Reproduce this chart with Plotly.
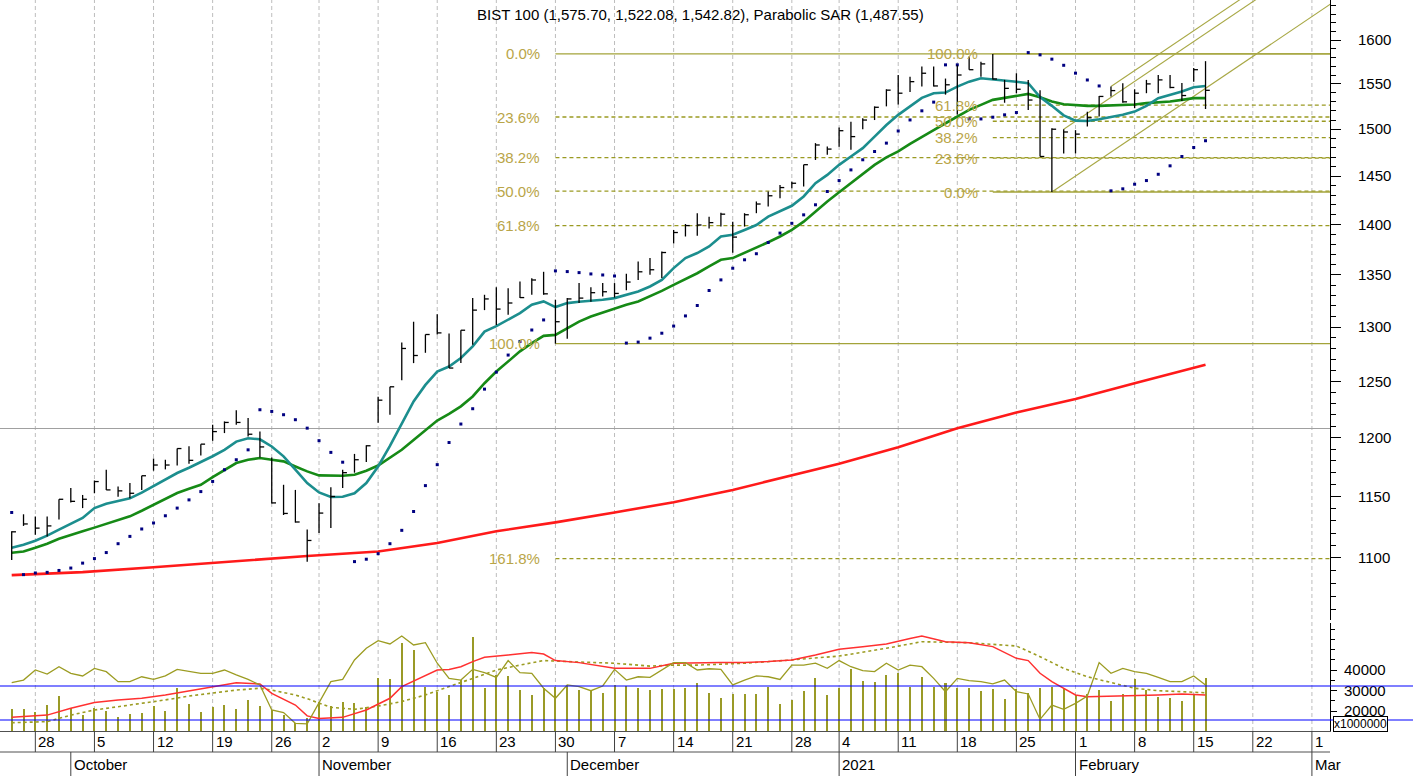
import math
import plotly.graph_objects as go

# ---------------- data (trading-day index 0 = 24 Sep 2020 ... 101 = 16 Feb 2021) ----------------
high = [1121.4,1135.3,1133.4,1133.4,1147.7,1157.0,1151.3,1163.4,1172.5,1158.3,
        1161.2,1167.4,1182.0,1181.0,1190.6,1192.6,1194.4,1211.3,1214.2,1224.0,
        1217.3,1205.3,1183.0,1159.8,1155.5,1122.8,1144.5,1157.8,1172.5,1186.0,
        1193.5,1236.0,1245.0,1285.5,1305.0,1293.0,1312.0,1294.0,1297.0,1327.5,
        1330.7,1338.0,1337.0,1343.5,1346.6,1353.0,1326.0,1327.5,1342.0,1338.0,
        1342.0,1342.0,1351.0,1363.0,1366.5,1373.0,1394.6,1400.6,1411.6,1408.0,
        1412.0,1403.0,1411.6,1423.6,1434.0,1440.8,1444.0,1462.0,1485.0,1481.3,
        1502.0,1508.0,1512.0,1525.0,1544.0,1560.0,1558.0,1569.6,1569.6,1556.0,
        1571.0,1581.0,1575.0,1584.0,1554.5,1562.0,1554.5,1543.0,1501.0,1500.0,
        1499.0,1519.0,1536.5,1547.0,1550.7,1544.0,1554.5,1560.0,1560.0,1551.0,
        1568.0,1575.70]
low = [1098.4,1125.8,1118.7,1117.3,1131.0,1145.0,1140.4,1152.7,1155.5,1149.8,
       1148.5,1155.5,1171.7,1172.8,1176.0,1177.5,1184.6,1197.3,1204.0,1211.3,
       1201.0,1183.0,1144.2,1134.7,1128.5,1097.0,1120.0,1124.0,1157.0,1170.0,
       1179.0,1213.0,1220.0,1251.0,1266.5,1276.0,1293.0,1262.0,1266.5,1283.4,
       1316.0,1302.0,1311.5,1327.5,1330.7,1330.7,1284.5,1289.0,1322.8,1324.0,
       1329.0,1328.0,1335.0,1345.0,1350.0,1347.0,1381.0,1388.0,1388.7,1396.0,
       1398.0,1371.8,1398.0,1411.6,1418.5,1427.0,1437.4,1439.0,1467.0,1472.5,
       1481.0,1478.0,1500.0,1510.0,1525.0,1527.0,1541.0,1547.0,1547.0,1538.0,
       1516.0,1566.0,1558.0,1555.0,1529.0,1539.6,1521.0,1470.7,1433.4,1474.0,
       1474.0,1503.0,1514.0,1536.0,1529.0,1523.0,1539.6,1539.6,1545.0,1531.0,
       1552.5,1522.08]
close = [1121.0,1127.4,1124.0,1125.8,1147.7,1146.0,1147.7,1162.5,1155.5,1154.7,
         1152.7,1167.4,1176.5,1176.5,1190.6,1180.5,1194.4,1205.3,1213.3,1213.3,
         1203.0,1192.0,1144.7,1136.0,1129.0,1114.0,1136.3,1150.0,1170.0,1181.0,
         1193.0,1233.0,1245.0,1280.0,1273.5,1293.0,1294.5,1262.0,1297.0,1316.0,
         1326.7,1317.0,1322.8,1328.0,1345.0,1331.6,1305.0,1326.7,1327.5,1332.7,
         1333.6,1332.0,1343.0,1353.0,1355.0,1372.0,1392.0,1399.0,1399.6,1402.0,
         1410.6,1387.4,1410.0,1421.0,1429.5,1438.0,1442.5,1462.0,1483.0,1478.6,
         1498.4,1492.0,1510.0,1524.0,1543.0,1539.6,1552.5,1562.0,1547.7,1549.0,
         1560.0,1566.0,1572.6,1555.5,1545.0,1544.0,1532.0,1470.7,1500.0,1497.0,
         1494.7,1512.5,1536.0,1542.5,1530.0,1539.6,1550.0,1554.5,1546.0,1537.0,
         1566.0,1542.82]
ma_teal = [1108.1,1110.6,1113.8,1117.9,1122.8,1127.6,1132.3,1140.4,1143.9,1146.3,
           1148.5,1153.3,1158.9,1164.5,1169.7,1174.2,1178.8,1184.0,1189.5,1196.6,
           1199.5,1198.6,1192.4,1183.9,1172.5,1161.2,1153.4,1149.6,1149.8,1152.7,
           1161.2,1175.3,1192.9,1212.7,1231.9,1246.7,1258.8,1263.4,1271.2,1281.9,
           1295.7,1300.9,1306.6,1313.1,1321.1,1324.3,1318.9,1322.7,1324.0,1324.9,
           1325.9,1327.5,1330.7,1333.9,1338.7,1345.1,1356.6,1366.5,1371.5,1378.0,
           1388.0,1389.7,1394.6,1399.6,1408.1,1413.3,1419.2,1428.8,1442.6,1451.2,
           1461.8,1470.7,1479.6,1492.0,1504.6,1515.7,1524.8,1534.4,1539.6,1540.3,
           1546.9,1552.5,1556.4,1555.2,1553.6,1552.5,1550.7,1535.2,1525.6,1515.1,
           1509.4,1509.0,1510.9,1513.1,1515.7,1519.3,1525.6,1534.1,1537.7,1541.4,
           1546.2,1547.7]
ma_green = [1104.1,1105.1,1108.1,1111.4,1115.4,1118.7,1121.4,1124.4,1127.6,1130.5,
            1133.6,1138.2,1143.1,1148.0,1152.9,1156.4,1159.8,1166.2,1172.5,1178.2,
            1181.0,1182.5,1181.0,1179.6,1175.3,1171.1,1167.7,1167.4,1167.4,1168.3,
            1171.7,1176.1,1182.5,1189.5,1198.0,1206.8,1215.0,1220.8,1227.5,1236.3,
            1248.2,1258.8,1268.0,1277.3,1285.0,1291.7,1292.6,1298.8,1305.1,1309.9,
            1313.7,1317.9,1321.1,1324.3,1329.1,1334.5,1340.3,1346.1,1351.6,1358.4,
            1364.8,1366.5,1371.5,1376.4,1382.2,1388.0,1394.6,1403.0,1413.3,1423.6,
            1433.1,1442.6,1452.2,1461.8,1469.8,1476.2,1484.2,1492.0,1499.1,1506.5,
            1513.8,1521.2,1526.7,1532.2,1534.4,1536.6,1538.8,1535.0,1530.3,1527.3,
            1526.2,1525.6,1525.6,1526.2,1526.7,1527.0,1528.6,1529.5,1530.3,1532.2,
            1534.1,1534.1]
psar = [1136.8,1086.8,1088.1,1088.6,1090.1,1092.0,1095.9,1099.5,1104.3,1111.4,
        1117.3,1123.3,1128.2,1134.1,1140.4,1147.2,1154.1,1162.6,1172.5,1181.0,
        1189.5,1224.5,1223.0,1220.1,1215.7,1208.3,1197.4,1187.3,1178.9,1097.1,
        1099.0,1103.4,1111.4,1122.2,1137.6,1159.1,1176.8,1195.8,1211.9,1225.4,
        1242.9,1258.3,1273.9,1286.5,1297.2,1306.7,1353.9,1353.2,1352.2,1350.9,
        1349.9,1348.9,1285.0,1285.9,1289.6,1294.2,1300.9,1310.5,1320.4,1334.8,
        1345.1,1356.5,1364.8,1370.8,1382.0,1391.4,1401.3,1409.9,1420.2,1433.9,
        1445.3,1456.5,1467.2,1476.0,1485.0,1498.1,1510.1,1520.1,1529.7,1571.5,
        1571.5,1511.2,1511.2,1513.1,1515.7,1518.2,1585.5,1582.9,1578.0,1571.0,
        1562.1,1554.4,1547.7,1434.6,1436.7,1441.5,1445.3,1451.9,1460.8,1470.7,
        1480.3,1487.55]
ma_red_idx = [0, 6, 12, 18, 25, 31, 36, 41, 46, 51, 56, 61, 66, 70, 75, 80, 85, 90, 95, 100, 101]
ma_red = [1086.4, 1088.8, 1092.6, 1097.0, 1101.6, 1105.1, 1112.0, 1121.4, 1128.7, 1136.8, 1145.3,
          1155.5, 1167.4, 1177.6, 1191.8, 1208.3, 1222.1, 1234.0, 1248.2, 1262.0, 1265.0]
ref_level = 1208.0

# lower panel (x1000000)
volume = [20800,20800,19700,22900,27300,21300,18000,21300,20200,17200,
          18500,19200,22400,20200,31100,23400,19700,22100,22900,20800,
          25400,22400,20500,18000,14000,16400,24600,22400,24600,23700,
          22100,35900,35400,53000,49800,31900,29400,27800,35100,56300,
          31100,37600,37100,30200,27800,31100,31900,32700,30200,30200,
          28900,32700,32200,31100,30200,30600,30600,31100,33500,28900,
          26200,28300,28300,28300,31900,23400,25400,29900,35900,27800,
          31100,40300,34800,34300,37600,38700,31900,36400,31900,33500,
          31100,31100,29900,30600,25900,30600,28900,31100,31900,31100,
          27800,28300,30200,24900,28300,35400,30200,26700,26200,24900,
          27800,35900]
osc_line = [33800,35100,40000,38000,41600,38400,37100,40800,39200,34300,
            34300,36700,35400,37100,40300,39200,38400,38400,40000,37600,
            35400,32700,20500,19200,14000,13700,23700,34300,35400,44900,
            50600,54300,52700,56600,52200,53300,43300,35900,35100,40300,
            38700,36400,44600,38700,38400,31100,26200,32700,31900,29900,
            32200,40300,35100,36700,36400,40000,43600,43600,40000,40600,
            40300,32700,35100,37100,36700,35400,42400,42400,43300,40800,
            44600,41600,39700,39200,43300,40000,42400,41600,35900,29400,
            35900,34800,34300,33200,35100,29400,28300,15900,22900,20800,
            23700,27300,43600,38400,40800,39200,38400,36400,34300,34300,
            37100,32700]
low_red_idx = [0,3,5,7,9,11,13,15,17,19,21,22,24,25,26,28,30,32,33,35,36,37,38,39,40,42,44,45,46,48,
               51,54,56,60,62,64,66,68,70,72,74,76,77,79,81,83,85,86,87,88,89,90,91,93,95,97,99,101]
low_red = [16900,18000,21300,24100,25400,26200,27800,29900,31900,33800,33200,28600,22900,17600,16400,
           16900,20500,26200,31900,37100,40000,40300,41600,44100,46200,47300,48500,47800,44600,43600,
           40800,40800,43300,43600,43600,44100,44900,47300,50100,51400,52700,55400,56600,53800,53300,
           51400,45700,44600,38400,34300,31100,27800,27000,27300,27300,27800,28300,27800]
low_dot_idx = [0,3,5,7,9,11,13,15,17,19,21,22,24,25,27,29,31,33,35,37,39,41,43,45,47,51,54,56,58,62,
               66,70,74,77,81,85,87,89,91,93,95,97,99,101]
low_dot = [14300,14800,18000,20500,22100,23700,25400,27300,28900,30200,31100,30200,27800,26000,21800,
           20800,22400,24600,27800,31900,35900,40000,42400,44600,44100,43300,41900,42400,42400,43300,
           44900,46800,50600,53800,53300,51700,46500,40800,36700,33800,31100,29900,29400,28900]
blue_levels = [32200, 15600]

# axis labels
week_idx = [2, 7, 12, 17, 22, 26, 31, 36, 41, 46, 51, 56, 61, 66, 70, 75, 80, 85, 90, 95, 100, 105, 110]
week_lbl = ["28", "5", "12", "19", "26", "2", "9", "16", "23", "30", "7", "14", "21", "28", "4", "11",
            "18", "25", "1", "8", "15", "22", "1"]
month_idx = [5, 26, 47, 70, 90, 110]
month_lbl = ["October", "November", "December", "2021", "February", "Mar"]
price_ticks = [1100, 1150, 1200, 1250, 1300, 1350, 1400, 1450, 1500, 1550, 1600]
vol_ticks = [20000, 30000, 40000]

# Fibonacci / channel anchors (bar indices)
fib1_low_i, fib_high_i, fib2_low_i = 46, 83, 88
fib1_ratios = [0.0, 0.236, 0.382, 0.5, 0.618, 1.0, 1.618]
fib2_ratios = [1.0, 0.618, 0.5, 0.382, 0.236, 0.0]
chan_base = [(88, 1433.4), (101, 1545.0)]
chan_starts = [(88, 1433.4), (89, 1500.0), (93, 1547.0)]

title_text = "BIST 100 (1,575.70, 1,522.08, 1,542.82), Parabolic SAR (1,487.55)"

# ---------------- figure ----------------
W, H = 1413, 776
PLOT_H = 731.0
XMIN, XMAX = -0.99, 111.53
FONT = "Liberation Sans, Arial, sans-serif"
FIB_LINE = "#a3a33a"
FIB_DASH = "#9a9a22"
FIB_TXT = "#b9a548"
n = len(high)
idx = list(range(n))

fig = go.Figure()

# gray reference line
fig.add_trace(go.Scatter(x=[XMIN, XMAX], y=[ref_level, ref_level], mode="lines",
                         line=dict(color="#a0a0a0", width=1.2), hoverinfo="skip"))

annotations = []

def fib_lines(start_i, lo, hi, ratios, from_top):
    for r in ratios:
        p = hi - r * (hi - lo) if from_top else lo + r * (hi - lo)
        solid = r in (0.0, 1.0)
        fig.add_trace(go.Scatter(x=[start_i, XMAX], y=[p, p], mode="lines",
                                 line=dict(color=FIB_LINE if solid else FIB_DASH, width=1.3,
                                           dash="solid" if solid else "4px,3px"),
                                 hoverinfo="skip"))
        annotations.append(dict(x=start_i, y=math.log10(p), xref="x", yref="y", xanchor="right",
                                yanchor="middle", xshift=-13, showarrow=False,
                                text=f"{r*100:.1f}%", font=dict(color=FIB_TXT, size=15, family=FONT)))

fib_hi = high[fib_high_i]
fib_lines(fib1_low_i, low[fib1_low_i], fib_hi, fib1_ratios, True)
fib_lines(fib_high_i, low[fib2_low_i], fib_hi, fib2_ratios, False)

# channel lines (parallel in log space)
slope = (math.log10(chan_base[1][1]) - math.log10(chan_base[0][1])) / (chan_base[1][0] - chan_base[0][0])
for (si, sp) in chan_starts:
    ex = 112.0
    ep = 10 ** (math.log10(sp) + slope * (ex - si))
    fig.add_trace(go.Scatter(x=[si, ex], y=[sp, ep], mode="lines",
                             line=dict(color="#a8a845", width=1.1), hoverinfo="skip"))

# moving averages
fig.add_trace(go.Scatter(x=ma_red_idx, y=ma_red, mode="lines",
                         line=dict(color="#ff1a1a", width=2.6), hoverinfo="skip"))
fig.add_trace(go.Scatter(x=idx, y=ma_green, mode="lines",
                         line=dict(color="#168a16", width=2.6), hoverinfo="skip"))
fig.add_trace(go.Scatter(x=idx, y=ma_teal, mode="lines",
                         line=dict(color="#1c8e8e", width=2.6), hoverinfo="skip"))
# parabolic SAR
fig.add_trace(go.Scatter(x=idx, y=psar, mode="markers",
                         marker=dict(symbol="square", size=3, color="#000080"), hoverinfo="skip"))

# HLC bars
bx, by, cx, cy = [], [], [], []
for i in idx:
    bx += [i, i, None]
    by += [low[i], high[i], None]
    cx += [i, i + 0.36, None]
    cy += [close[i], close[i], None]
fig.add_trace(go.Scatter(x=bx, y=by, mode="lines", line=dict(color="black", width=1.3),
                         hoverinfo="skip", connectgaps=False))
fig.add_trace(go.Scatter(x=cx, y=cy, mode="lines", line=dict(color="black", width=1.3),
                         hoverinfo="skip", connectgaps=False))

# lower panel
fig.add_trace(go.Bar(x=idx, y=volume, width=0.17, marker=dict(color="#9a9a26", line=dict(width=0)),
                     yaxis="y2", hoverinfo="skip"))
fig.add_trace(go.Scatter(x=low_dot_idx, y=low_dot, mode="lines", yaxis="y2",
                         line=dict(color="#9c9c22", width=1.6, dash="dot"), hoverinfo="skip"))
fig.add_trace(go.Scatter(x=low_red_idx, y=low_red, mode="lines", yaxis="y2",
                         line=dict(color="#ff3030", width=1.5), hoverinfo="skip"))
fig.add_trace(go.Scatter(x=idx, y=osc_line, mode="lines", yaxis="y2",
                         line=dict(color="#9c9c22", width=1.3), hoverinfo="skip"))

shapes = []
# vertical dashed weekly grid
for w in week_idx:
    shapes.append(dict(type="line", xref="x", yref="paper", x0=w, x1=w, y0=0, y1=1,
                       line=dict(color="#bdbdbd", width=1, dash="4px,3px"), layer="below"))
# blue level lines
for b in blue_levels:
    shapes.append(dict(type="line", xref="paper", yref="y2", x0=0, x1=W / 1330.0, y0=b, y1=b,
                       line=dict(color="#0000ff", width=1.2)))
# date bands
band1 = -21.0 / PLOT_H
band2 = -45.0 / PLOT_H
shapes.append(dict(type="line", xref="paper", yref="paper", x0=0, x1=1, y0=band1, y1=band1,
                   line=dict(color="#505050", width=1)))
for w, t in zip(week_idx, week_lbl):
    shapes.append(dict(type="line", xref="x", yref="paper", x0=w, x1=w, y0=0, y1=band1,
                       line=dict(color="#404040", width=1)))
    annotations.append(dict(x=w, y=band1 / 2, xref="x", yref="paper", xanchor="left", yanchor="middle",
                            xshift=1, showarrow=False, text=t, font=dict(size=15, family=FONT, color="black")))
for m, t in zip(month_idx, month_lbl):
    shapes.append(dict(type="line", xref="x", yref="paper", x0=m, x1=m, y0=band1, y1=band2,
                       line=dict(color="#404040", width=1)))
    annotations.append(dict(x=m, y=(band1 + band2) / 2, xref="x", yref="paper", xanchor="left",
                            yanchor="middle", xshift=1, showarrow=False, text=t,
                            font=dict(size=15, family=FONT, color="black")))

annotations.append(dict(x=700 / 1330.0, y=1 - 14 / PLOT_H, xref="paper", yref="paper", xanchor="center",
                        yanchor="middle", showarrow=False, text=title_text,
                        font=dict(size=15, family=FONT, color="black")))
annotations.append(dict(x=1333 / 1330.0, y=1 - 723.5 / PLOT_H, xref="paper", yref="paper", xanchor="left",
                        yanchor="middle", showarrow=False, text="x1000000", bgcolor="white",
                        bordercolor="black", borderwidth=1, borderpad=0,
                        font=dict(size=12, family=FONT, color="black")))

price_minor = [v for v in range(1060, 1650, 10) if v not in price_ticks]

fig.update_layout(
    width=W, height=H,
    margin=dict(l=0, r=W - 1330, t=0, b=int(H - PLOT_H), autoexpand=False),
    paper_bgcolor="white", plot_bgcolor="white", showlegend=False,
    font=dict(family=FONT, size=15, color="black"),
    bargap=0,
    xaxis=dict(range=[XMIN, XMAX], showgrid=False, zeroline=False, showticklabels=False,
               showline=True, linecolor="#505050", linewidth=1, anchor="y2", ticks=""),
    yaxis=dict(domain=[1 - 620 / PLOT_H, 1], type="log", range=[3.0219, 3.21669], side="right",
               anchor="x", tickmode="array", tickvals=price_ticks, ticktext=[str(v) for v in price_ticks],
               ticks="outside", ticklen=10, tickcolor="black", tickwidth=1,
               showline=True, linecolor="black", linewidth=1, showgrid=False, zeroline=False,
               ticklabelstandoff=14, tickfont=dict(size=15, family=FONT, color="black"),
               minor=dict(tickmode="array", tickvals=price_minor, ticks="outside", ticklen=5,
                          tickcolor="black", showgrid=False)),
    yaxis2=dict(domain=[0, 1 - 623 / PLOT_H], range=[10244, 62926], side="right", anchor="x",
                tickmode="array", tickvals=vol_ticks, ticktext=[str(v) for v in vol_ticks],
                ticks="outside", ticklen=6, tickcolor="black", showline=True, linecolor="black",
                linewidth=1, showgrid=False, zeroline=False, ticklabelstandoff=4,
                tickfont=dict(size=15, family=FONT, color="black"),
                minor=dict(tickmode="array", tickvals=[25000, 35000, 45000, 50000, 55000, 60000],
                           ticks="outside", ticklen=4, tickcolor="black", showgrid=False)),
    shapes=shapes,
    annotations=annotations,
)

fig.write_html("out.html", config={"displayModeBar": False, "responsive": False},
               post_script="document.body.style.margin='0';document.body.style.overflow='hidden';")
